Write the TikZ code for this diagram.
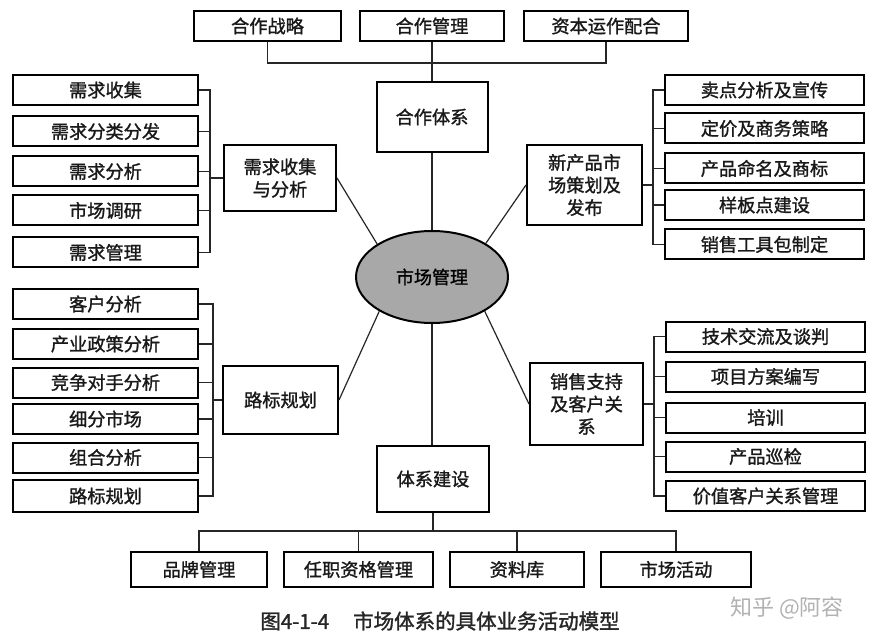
\documentclass[tikz,border=0pt]{standalone}
\usepackage{fontspec}
\setmainfont{Noto Sans CJK SC}[FakeBold=1.3]
\newfontfamily\capfont{Noto Sans CJK SC}[FakeBold=1.5]
\newfontfamily\wmfont{Noto Sans CJK SC}
\usetikzlibrary{shapes.geometric}
\definecolor{corefill}{HTML}{A8A8A8}
\tikzset{
  box/.style={draw=black, line width=2pt, rectangle, inner sep=0pt, align=center,
    font=\fontsize{18.2}{22.5}\selectfont, text=black!90},
  item/.style={box, minimum height=30pt},
  conn/.style={line width=1.2pt, draw=black!85},
}
\begin{document}
\begin{tikzpicture}[x=1pt,y=-1pt]
\fill[white] (0,0) rectangle (878,644);
\useasboundingbox (0,0) rectangle (878,644);

% top row
\node[item, minimum width=147pt] (t1) at (267.5,26) {合作战略};
\node[item, minimum width=144pt] (t2) at (432,26) {合作管理};
\node[item, minimum width=164pt] (t3) at (606,26) {资本运作配合};

% central boxes
\node[box, minimum width=111pt, minimum height=70pt] (coopsys) at (432,117) {合作体系};
\node[box, minimum width=112pt, minimum height=66pt] (req) at (280,178) {需求收集\\与分析};
\node[box, minimum width=115pt, minimum height=80pt] (newp) at (584.5,185) {新产品市\\场策划及\\发布};
\node[box, minimum width=115pt, minimum height=68pt] (road) at (280.5,400) {路标规划};
\node[box, minimum width=113pt, minimum height=82pt] (sales) at (586.5,404) {销售支持\\及客户关\\系};
\node[box, minimum width=112pt, minimum height=66pt] (sys) at (433,479) {体系建设};

\node[ellipse, draw=black, line width=2pt, fill=corefill, minimum width=152pt, minimum height=92pt,
  inner sep=0pt, font=\fontsize{18}{22}\selectfont, text=black] (core) at (432,277) {市场管理};

% left list 1
\node[item, minimum width=185pt] (a1) at (105.5,90) {需求收集};
\node[item, minimum width=185pt] (a2) at (105.5,131.5) {需求分类分发};
\node[item, minimum width=185pt] (a3) at (105.5,171.5) {需求分析};
\node[item, minimum width=185pt] (a4) at (105.5,210.5) {市场调研};
\node[item, minimum width=185pt] (a5) at (105.5,252.5) {需求管理};

% right list 1
\node[item, minimum width=199pt] (r1) at (764.5,90) {卖点分析及宣传};
\node[item, minimum width=199pt] (r2) at (764.5,128.5) {定价及商务策略};
\node[item, minimum width=199pt] (r3) at (764.5,168.5) {产品命名及商标};
\node[item, minimum width=199pt] (r4) at (764.5,205) {样板点建设};
\node[item, minimum width=199pt] (r5) at (764.5,244.5) {销售工具包制定};

% left list 2
\node[item, minimum width=185pt] (c1) at (105.5,304) {客户分析};
\node[item, minimum width=185pt] (c2) at (105.5,344) {产业政策分析};
\node[item, minimum width=185pt] (c3) at (105.5,382.5) {竞争对手分析};
\node[item, minimum width=185pt] (c4) at (105.5,419) {细分市场};
\node[item, minimum width=185pt] (c5) at (105.5,457.5) {组合分析};
\node[item, minimum width=185pt, minimum height=32pt] (c6) at (105.5,496) {路标规划};

% right list 2
\node[item, minimum width=199pt] (s1) at (765.5,336.5) {技术交流及谈判};
\node[item, minimum width=199pt] (s2) at (765.5,376.5) {项目方案编写};
\node[item, minimum width=199pt] (s3) at (765.5,417.5) {培训};
\node[item, minimum width=199pt] (s4) at (765.5,456.5) {产品巡检};
\node[item, minimum width=199pt] (s5) at (765.5,496) {价值客户关系管理};

% bottom row
\node[item, minimum width=136pt, minimum height=35pt] (b1) at (199,569.5) {品牌管理};
\node[item, minimum width=149pt, minimum height=35pt] (b2) at (358.5,569.5) {任职资格管理};
\node[item, minimum width=134pt, minimum height=35pt] (b3) at (517,569.5) {资料库};
\node[item, minimum width=150pt, minimum height=35pt] (b4) at (676,569.5) {市场活动};

% connectors: top
\coordinate (tb) at (432,63);
\draw[conn] (t1.south) |- (tb) -| (t3.south);
\draw[conn] (t2.south) -- (coopsys.north);
\draw[conn] (coopsys.south) -- (core.north);

% diagonals
\draw[conn] (req.east) -- (core.149);
\draw[conn] (newp.west) -- (core.32);
\draw[conn] (road.east) -- (core.213);
\draw[conn] (sales.west) -- (core.-33);
\draw[conn] (core.south) -- (core.south |- sys.north);

% brackets
\coordinate (bl1) at (210,178);
\foreach \n in {a1,a2,a3,a4,a5} \draw[conn] (\n.east) -| (bl1);
\draw[conn] (bl1) -- (req.west);

\coordinate (br1) at (653,185);
\foreach \n in {r1,r2,r3,r4,r5} \draw[conn] (\n.west) -| (br1);
\draw[conn] (br1) -- (newp.east);

\coordinate (bl2) at (213,400);
\foreach \n in {c1,c2,c3,c4,c5,c6} \draw[conn] (\n.east) -| (bl2);
\draw[conn] (bl2) -- (road.west);

\coordinate (br2) at (654,404);
\foreach \n in {s1,s2,s3,s4,s5} \draw[conn] (\n.west) -| (br2);
\draw[conn] (br2) -- (sales.east);

\coordinate (bb) at (433,531);
\foreach \n in {b1,b2,b3,b4} \draw[conn] (\n.north) |- (bb);
\draw[conn] (sys.south) -- (bb);

% caption and watermark
\node[font=\capfont\fontsize{20.5}{23}\selectfont, text=black!85, inner sep=0pt] (cap) at (440,621)
  {图4-1-4\hspace{24pt}市场体系的具体业务活动模型};
\node[font=\wmfont\fontsize{22}{24}\selectfont, text=black!30, inner sep=0pt] (wm) at (787,608) {知乎 @阿容};
\end{tikzpicture}
\end{document}
